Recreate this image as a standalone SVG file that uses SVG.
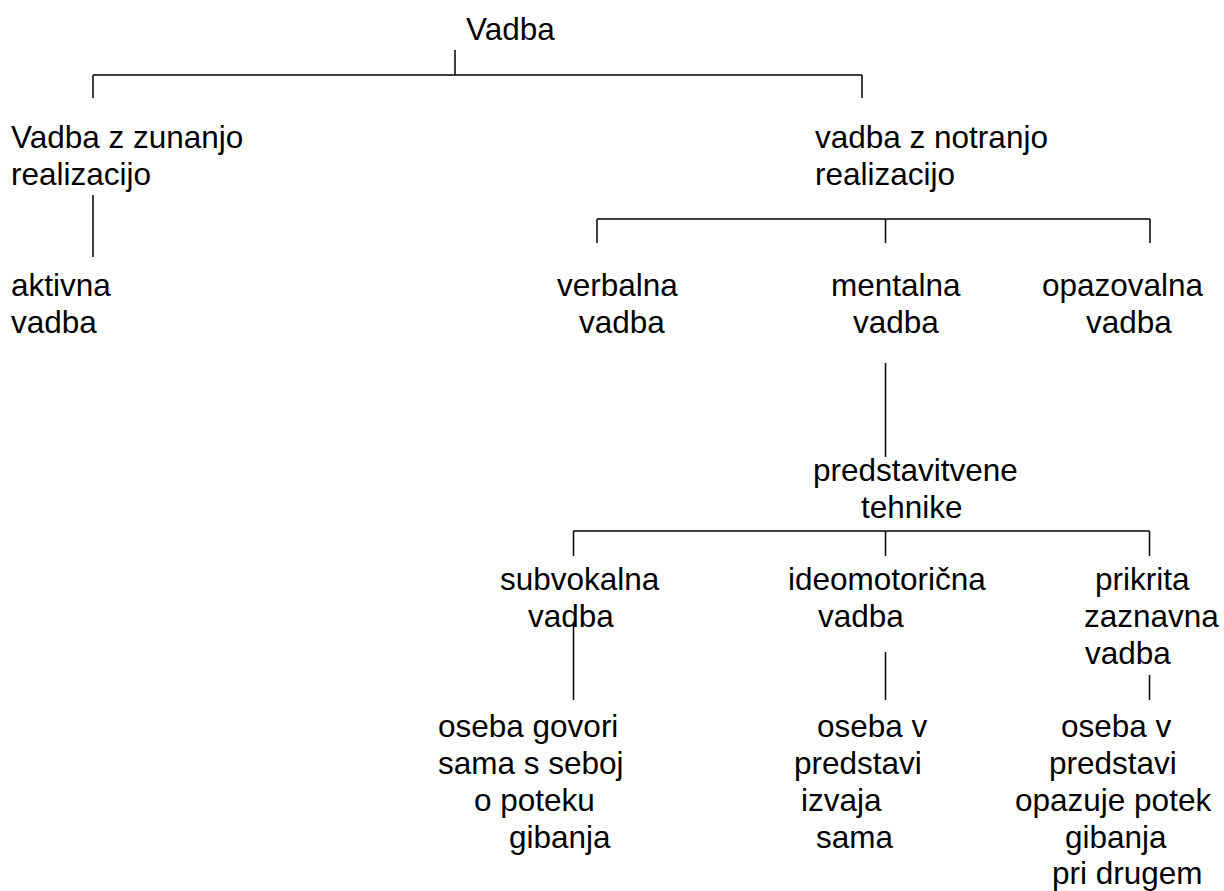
<svg xmlns="http://www.w3.org/2000/svg" width="1224" height="891" viewBox="0 0 1224 891">
<style>
text{font-family:"Liberation Sans",Arial,sans-serif;font-size:31.5px;fill:#000}
.c line{stroke:#000;stroke-width:1.5;fill:none}
</style>
<rect width="1224" height="891" fill="#fff"/>
<g class="c" id="connectors">
<line x1="455" y1="50" x2="455" y2="75"/>
<line x1="93" y1="75" x2="862" y2="75"/>
<line x1="93" y1="75" x2="93" y2="98"/>
<line x1="862" y1="75" x2="862" y2="98"/>
<line x1="93" y1="195" x2="93" y2="257"/>
<line x1="597" y1="219" x2="1150" y2="219"/>
<line x1="597" y1="219" x2="597" y2="243"/>
<line x1="885.5" y1="219" x2="885.5" y2="243"/>
<line x1="1150" y1="219" x2="1150" y2="243"/>
<line x1="885.5" y1="363" x2="885.5" y2="457"/>
<line x1="573.5" y1="531" x2="1149.5" y2="531"/>
<line x1="573.5" y1="531" x2="573.5" y2="556"/>
<line x1="885.5" y1="531" x2="885.5" y2="556"/>
<line x1="1149.5" y1="531" x2="1149.5" y2="556"/>
<line x1="573.5" y1="622" x2="573.5" y2="700"/>
<line x1="885.5" y1="652" x2="885.5" y2="700"/>
<line x1="1149.5" y1="675" x2="1149.5" y2="700"/>
</g>
<g id="n-vadba"><text x="466" y="40">Vadba</text></g>
<g id="n-zunanjo"><text x="11" y="148">Vadba z zunanjo</text><text x="11" y="185">realizacijo</text></g>
<g id="n-notranjo"><text x="815" y="148">vadba z notranjo</text><text x="815" y="185">realizacijo</text></g>
<g id="n-aktivna"><text x="11" y="296">aktivna</text><text x="11" y="333">vadba</text></g>
<g id="n-verbalna"><text x="557" y="296">verbalna</text><text x="579" y="333">vadba</text></g>
<g id="n-mentalna"><text x="831" y="296">mentalna</text><text x="853" y="333">vadba</text></g>
<g id="n-opazovalna"><text x="1042" y="296">opazovalna</text><text x="1086" y="333">vadba</text></g>
<g id="n-predstavitvene"><text x="813" y="481">predstavitvene</text><text x="861" y="518">tehnike</text></g>
<g id="n-subvokalna"><text x="500" y="590">subvokalna</text><text x="528" y="627">vadba</text></g>
<g id="n-ideomotoricna"><text x="788" y="590">ideomotorična</text><text x="818" y="627">vadba</text></g>
<g id="n-prikrita"><text x="1095" y="590">prikrita</text><text x="1084" y="627">zaznavna</text><text x="1085" y="664">vadba</text></g>
<g id="n-desc1"><text x="438" y="737">oseba govori</text><text x="438" y="774">sama s seboj</text><text x="474" y="811">o poteku</text><text x="509" y="848">gibanja</text></g>
<g id="n-desc2"><text x="817" y="737">oseba v</text><text x="794" y="774">predstavi</text><text x="801" y="811">izvaja</text><text x="816" y="848">sama</text></g>
<g id="n-desc3"><text x="1061" y="737">oseba v</text><text x="1049" y="774">predstavi</text><text x="1015" y="811">opazuje potek</text><text x="1065" y="848">gibanja</text><text x="1052" y="884">pri drugem</text></g>
</svg>
